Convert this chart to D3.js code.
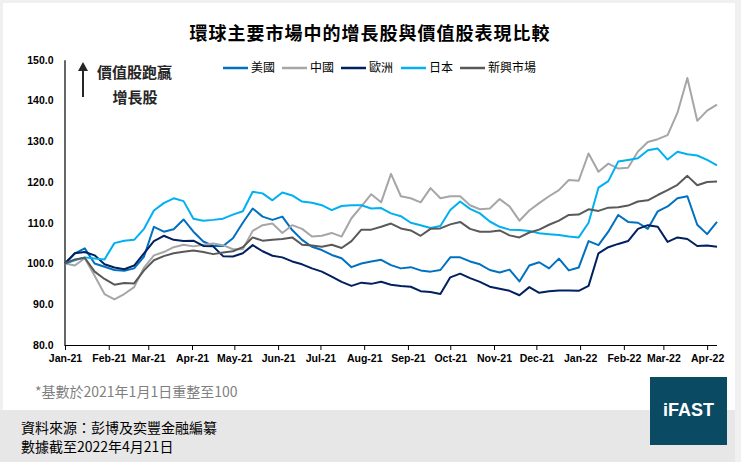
<!DOCTYPE html>
<html>
<head>
<meta charset="utf-8">
<style>
body { margin: 0; background: #f0f0f0; }
.tick text { font: bold 10.5px "Liberation Sans", Arial, sans-serif; fill: #000; }
.cjk { font-family: "Noto Sans CJK TC", "Noto Sans CJK SC", sans-serif; }
.series { fill: none; stroke-width: 2px; stroke-linejoin: round; }
</style>
</head>
<body>
<div id="chart"></div>
<script src="https://cdn.jsdelivr.net/npm/d3@7"></script>
<script>

// weekly readings, first point 2021-01-01
const startDate = new Date(2021, 0, 1);
const weeks = 67;
const dates = d3.range(weeks).map(i => d3.timeDay.offset(startDate, i * 7));

const seriesNames = ["美國", "中國", "歐洲", "日本", "新興市場"];
const seriesColors = ["#0070C0", "#A6A6A6", "#002060", "#00B0F0", "#595959"];

const usa = [100, 102.5, 103.7, 100.0, 99.2, 98.4, 98.2, 98.8, 101.7, 109.0,
  107.8, 108.4, 110.8, 107.8, 105.4, 104.3, 104.3, 106.2, 110.0, 113.5,
  111.5, 110.7, 111.5, 108.2, 105.8, 104.1, 103.3, 102.1, 101.3, 99.1,
  100.0, 100.5, 100.9, 99.6, 98.8, 99.1, 98.3, 98.0, 98.4, 101.5,
  101.5, 100.5, 99.8, 98.4, 97.8, 98.5, 95.6, 99.5, 100.3, 98.8,
  101.2, 98.3, 99.0, 105.5, 104.5, 107.8, 111.9, 110.2, 110.0, 108.5,
  112.8, 114.0, 116.0, 116.5, 109.5, 107.2, 110.2];

const china = [100, 99.5, 101.3, 97.0, 92.5, 91.2, 92.5, 94.2, 99.0, 102.0,
  102.8, 104.0, 104.6, 104.2, 104.6, 104.9, 104.5, 103.5, 103.5, 108.0,
  109.4, 109.8, 107.5, 109.4, 108.5, 106.6, 106.8, 107.5, 106.6, 111.1,
  114.0, 117.0, 115.0, 122.0, 116.5, 116.0, 115.0, 118.5, 116.0, 116.5,
  116.5, 114.3, 113.3, 113.5, 115.8, 114.0, 110.5, 113.0, 114.8, 116.5,
  118.0, 120.5, 120.3, 127.0, 122.5, 124.5, 123.3, 123.5, 127.5, 129.8,
  130.5, 131.5, 137.0, 145.5, 135.0, 137.5, 139.0];

const europe = [100, 102.5, 102.8, 102.0, 99.8, 99.0, 98.6, 99.5, 102.5, 105.5,
  106.8, 105.8, 105.5, 105.6, 104.3, 104.2, 101.8, 101.7, 102.5, 104.5,
  103.0, 101.9, 101.5, 100.5, 99.8, 98.8, 98.0, 96.8, 95.5, 94.5,
  95.3, 95.0, 95.5, 94.8, 94.5, 94.3, 93.2, 93.0, 92.5, 96.6,
  97.5, 96.4, 95.5, 94.3, 93.8, 93.3, 92.2, 94.2, 92.8, 93.2,
  93.4, 93.4, 93.3, 94.5, 102.5, 104.0, 104.8, 105.5, 108.5, 109.4,
  109.0, 105.3, 106.4, 106.0, 104.3, 104.4, 104.1];

const japan = [100, 100.8, 101.5, 101.2, 101.0, 105.0, 105.6, 105.8, 108.5, 113.0,
  114.8, 116.0, 115.3, 111.0, 110.5, 110.7, 111.0, 112.0, 112.8, 117.6,
  117.2, 115.5, 117.4, 116.7, 115.2, 114.9, 114.3, 113.1, 114.1, 114.3,
  114.3, 113.5, 113.6, 112.3, 111.6, 110.0, 109.4, 108.7, 109.2, 113.1,
  115.2, 113.4, 112.3, 110.3, 109.0, 108.3, 108.2, 108.0, 107.4, 107.2,
  107.0, 106.6, 106.4, 110.0, 118.6, 120.2, 125.0, 125.4, 125.8, 127.8,
  128.2, 125.5, 127.4, 126.8, 126.5, 125.4, 124.1];

const emerging = [100, 101.0, 101.4, 98.0, 96.2, 94.8, 95.2, 95.1, 98.3, 100.8,
  101.8, 102.5, 102.9, 103.2, 102.8, 102.3, 102.7, 103.0, 104.0, 106.4,
  105.6, 105.8, 106.0, 106.4, 104.6, 104.4, 104.1, 104.6, 103.8, 105.5,
  108.3, 108.3, 109.0, 109.8, 108.6, 108.1, 106.8, 108.5, 108.6, 109.6,
  110.2, 108.5, 107.8, 107.8, 108.1, 106.9, 106.4, 107.6, 108.3, 109.5,
  110.5, 111.9, 112.0, 113.3, 112.9, 113.7, 113.8, 114.2, 115.2, 115.5,
  116.8, 118.0, 119.3, 121.5, 119.2, 120.0, 120.1];

const yTicks = [80, 90, 100, 110, 120, 130, 140, 150];

const W = 741, H = 462;
const svg = d3.select("#chart").append("svg")
  .attr("width", W)
  .attr("height", H)
  .style("display", "block");

// page frame, white card and grey footer
svg.append("rect").attr("width", W).attr("height", H).attr("fill", "#f0f0f0");
svg.append("rect").attr("x", 3).attr("y", 3).attr("width", 732).attr("height", 407).attr("fill", "#fff");
svg.append("rect").attr("x", 0).attr("y", 410).attr("width", 735).attr("height", 52).attr("fill", "#e7e7e7");

const x = d3.scaleTime()
  .domain([startDate, dates[dates.length - 1]])
  .range([65, 717]);
const y = d3.scaleLinear()
  .domain([80, 150])
  .range([345, 59.7]);

// title
svg.append("text")
  .attr("class", "cjk")
  .attr("x", 370).attr("y", 40)
  .attr("text-anchor", "middle")
  .attr("font-size", 18).attr("font-weight", "bold")
  .attr("letter-spacing", 1)
  .text("環球主要市場中的增長股與價值股表現比較");

// axes
const yAxis = svg.append("g")
  .attr("transform", "translate(64.5,0)")
  .call(d3.axisLeft(y).tickValues(yTicks).tickFormat(d3.format(".1f")).tickSize(0).tickPadding(11));
yAxis.select(".domain").attr("stroke", "#000").attr("stroke-width", 1.2);

const xAxis = svg.append("g")
  .attr("transform", "translate(0,345)")
  .call(d3.axisBottom(x)
    .ticks(d3.timeMonth.every(1))
    .tickFormat(d3.timeFormat("%b-%y"))
    .tickSize(5).tickSizeOuter(0).tickPadding(5));
xAxis.select(".domain").attr("stroke", "#000").attr("stroke-width", 1.2)
  .attr("d", "M64.5,0.5H717");
xAxis.selectAll(".tick line").attr("stroke", "#000");

// lines
const allSeries = [usa, china, europe, japan, emerging];
const line = d3.line()
  .x((d, i) => x(dates[i]))
  .y(d => y(d));

svg.append("g").selectAll("path")
  .data(allSeries)
  .join("path")
  .attr("class", "series")
  .attr("stroke", (d, i) => seriesColors[i])
  .attr("d", line);

// legend
const legendX = [223, 282, 341, 401, 460];
const legend = svg.append("g").selectAll("g")
  .data(seriesNames)
  .join("g")
  .attr("transform", (d, i) => `translate(${legendX[i]},68)`);
legend.append("line")
  .attr("x1", 0).attr("x2", 25)
  .attr("stroke", (d, i) => seriesColors[i])
  .attr("stroke-width", 2.5);
legend.append("text")
  .attr("class", "cjk")
  .attr("x", 28).attr("dy", "0.35em")
  .attr("font-size", 12)
  .text(d => d);

// annotation
svg.append("line")
  .attr("x1", 83).attr("x2", 83)
  .attr("y1", 97).attr("y2", 70)
  .attr("stroke", "#262626").attr("stroke-width", 2);
svg.append("path")
  .attr("d", "M78,71L83,62L88,71Z")
  .attr("fill", "#262626");
svg.append("text")
  .attr("class", "cjk")
  .attr("x", 97).attr("y", 73).attr("dy", "0.35em")
  .attr("font-size", 15).attr("font-weight", "bold").attr("fill", "#262626")
  .text("價值股跑贏");
svg.append("text")
  .attr("class", "cjk")
  .attr("x", 135).attr("y", 98).attr("dy", "0.35em")
  .attr("text-anchor", "middle")
  .attr("font-size", 15).attr("font-weight", "bold").attr("fill", "#262626")
  .text("增長股");

// footnote and source
svg.append("text")
  .attr("class", "cjk")
  .attr("x", 35).attr("y", 392).attr("dy", "0.35em")
  .attr("font-size", 14).attr("fill", "#7f7f7f")
  .text("*基數於2021年1月1日重整至100");
svg.append("text")
  .attr("class", "cjk")
  .attr("x", 21).attr("y", 428).attr("dy", "0.35em")
  .attr("font-size", 14).attr("fill", "#000")
  .text("資料來源：彭博及奕豐金融編纂");
svg.append("text")
  .attr("class", "cjk")
  .attr("x", 21).attr("y", 447).attr("dy", "0.35em")
  .attr("font-size", 14).attr("fill", "#000")
  .text("數據截至2022年4月21日");

// logo
svg.append("rect")
  .attr("x", 650).attr("y", 377)
  .attr("width", 77).attr("height", 68)
  .attr("fill", "#0b4a63");
svg.append("text")
  .attr("x", 688.5).attr("y", 410).attr("dy", "0.35em")
  .attr("text-anchor", "middle")
  .attr("font-family", "Liberation Sans, Arial, sans-serif")
  .attr("font-size", 18).attr("font-weight", "bold").attr("fill", "#fff")
  .text("iFAST");

</script>
</body>
</html>
